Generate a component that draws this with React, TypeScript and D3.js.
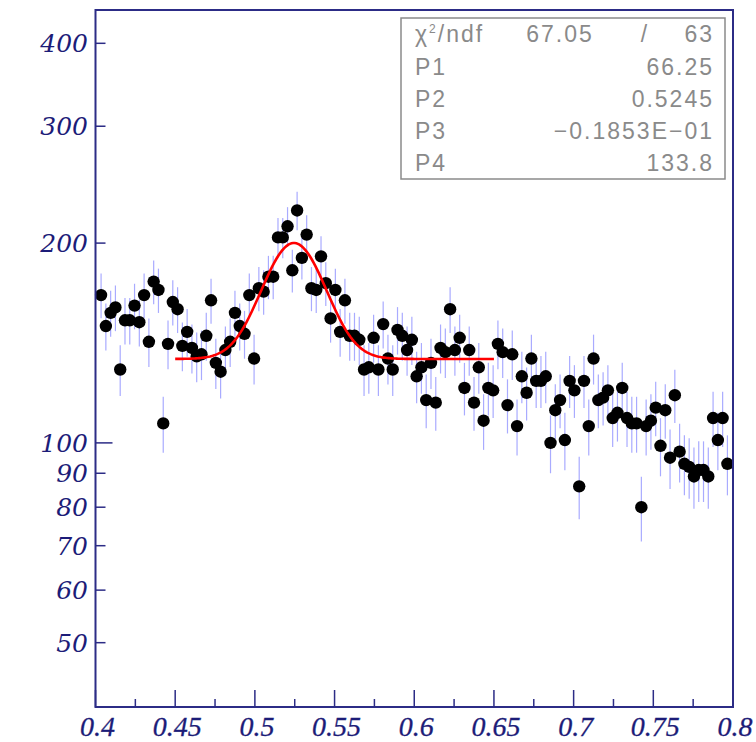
import React from 'react';
import * as d3 from 'd3';

// histogram: bin centres start at binStart, one bin every binWidth
const binStart = 0.4035;
const binWidth = 0.003;
const counts = [
  167, 150, 157, 160, 129, 153, 153, 161, 152, 167,
  142, 175, 170, 107, 141, 163, 159, 140, 147, 139,
  135, 136, 145, 164, 132, 128, 138, 142, 157, 150,
  146, 167, 134, 171, 169, 178, 178, 204, 204, 212,
  182, 224, 190, 206, 171, 170, 191, 174, 154, 170,
  147, 164, 145, 145, 143, 129, 130, 144, 129, 151,
  134, 129, 148, 145, 138, 143, 126, 130, 116, 132,
  115, 139, 137, 159, 138, 144, 121, 138, 115, 130,
  108, 121, 120, 141, 137, 114, 136, 106, 126, 119,
  134, 124, 124, 126, 100, 112, 116, 101, 124, 120,
  86, 124, 106, 134, 116, 117, 120, 109, 111, 121,
  109, 107, 107, 80, 106, 108, 113, 99, 112, 95,
  118, 97, 93, 92, 89, 91, 91, 89, 109, 101,
  109, 93,
];

// fit result shown in the stats box (gaussian + constant)
const fitRange = [0.45, 0.65];
const fitParams = { p1: 66.25, p2: 0.5245, p3: -0.01853, p4: 133.8 };
const statRows = [
  { label: 'P1', value: '66.25' },
  { label: 'P2', value: '0.5245' },
  { label: 'P3', value: '\u22120.1853E\u221201' },
  { label: 'P4', value: '133.8' },
];

const xTicksMajor = [0.4, 0.45, 0.5, 0.55, 0.6, 0.65, 0.7, 0.75, 0.8];
const xTickLabels = ['0.4', '0.45', '0.5', '0.55', '0.6', '0.65', '0.7', '0.75', '0.8'];
const xTicksMinor = [0.425, 0.475, 0.525, 0.575, 0.625, 0.675, 0.725, 0.775];
const yTicks = [50, 60, 70, 80, 90, 100, 200, 300, 400];

const W = 756;
const H = 742;
const left = 95.5, right = 733, top = 10, bottom = 707;
const axisColor = '#2c2c86';
const labelColor = '#1c1c78';

export default function App() {
  const x = d3.scaleLinear().domain([0.4, 0.8]).range([left, right]);
  const y = d3.scaleLog().domain([40, 449]).range([bottom, top]);

  const points = counts.map((c, i) => ({ x: binStart + i * binWidth, y: c }));

  const fn = (v: number) =>
    fitParams.p1 * Math.exp(-0.5 * Math.pow((v - fitParams.p2) / fitParams.p3, 2)) + fitParams.p4;
  const fitPts = d3.range(0, 201).map(i => {
    const v = fitRange[0] + (i / 200) * (fitRange[1] - fitRange[0]);
    return [v, fn(v)] as [number, number];
  });
  const line = d3.line<[number, number]>().x(d => x(d[0])).y(d => y(d[1]));

  const boxX = 401, boxY = 18, boxW = 324, boxH = 161;
  const rowH = boxH / 5;
  const textStyle = {
    fontFamily: 'Liberation Sans, Arial, sans-serif', fontSize: 23, fill: '#8a8a8a', letterSpacing: 2,
  };
  const xFont = {
    fontFamily: 'Liberation Serif, Times New Roman, serif', fontStyle: 'italic', fontSize: 28,
    fill: labelColor, stroke: labelColor, strokeWidth: 0.3,
  };
  const yFont = {
    fontFamily: 'DejaVu Serif, serif', fontStyle: 'italic', fontSize: 25, fill: labelColor,
  };

  return (
    <svg width={W} height={H} style={{ position: 'absolute', left: 0, top: 0, background: '#fff' }}>
      {/* error bars */}
      <g stroke="#a9abff" strokeWidth={1.2}>
        {points.map((p, i) => (
          <line key={i} x1={x(p.x)} x2={x(p.x)}
            y1={y(p.y + Math.sqrt(p.y))} y2={y(p.y - Math.sqrt(p.y))} />
        ))}
      </g>
      {/* points */}
      <g fill="#000">
        {points.map((p, i) => (
          <circle key={i} cx={x(p.x)} cy={y(p.y)} r={6.2} />
        ))}
      </g>
      {/* fit */}
      <path d={line(fitPts) || ''} fill="none" stroke="#ff0000" strokeWidth={2.6} />

      {/* frame */}
      <rect x={left} y={top} width={right - left} height={bottom - top}
        fill="none" stroke={axisColor} strokeWidth={2} />

      {/* x ticks */}
      <g stroke={axisColor} strokeWidth={1.5}>
        {xTicksMajor.map(t => (
          <line key={t} x1={x(t)} x2={x(t)} y1={bottom} y2={bottom - 17} />
        ))}
        {xTicksMinor.map(t => (
          <line key={t} x1={x(t)} x2={x(t)} y1={bottom} y2={bottom - 8} />
        ))}
      </g>
      <g style={xFont}>
        {xTicksMajor.map((t, i) => (
          <text key={t} x={x(t) + 2} y={736} textAnchor="middle">{xTickLabels[i]}</text>
        ))}
      </g>

      {/* y ticks */}
      <g stroke={axisColor} strokeWidth={1.5}>
        {yTicks.map(t => (
          <line key={t} x1={left} x2={left + (t === 100 ? 17 : 10)} y1={y(t)} y2={y(t)} />
        ))}
      </g>
      <g style={yFont}>
        {yTicks.map(t => (
          <text key={t} x={88} y={y(t)} dy="0.36em" textAnchor="end">{t}</text>
        ))}
      </g>

      {/* stats box */}
      <rect x={boxX} y={boxY} width={boxW} height={boxH} fill="#fff" stroke="#8a8a8a" strokeWidth={1.5} />
      <g style={textStyle}>
        <text x={415} y={boxY + rowH * 0.5} dy="0.36em">
          {'\u03c7'}<tspan fontSize={12} dy="-9">2</tspan><tspan dy="9">/ndf</tspan>
        </text>
        <text x={560} y={boxY + rowH * 0.5} dy="0.36em" textAnchor="middle">67.05</text>
        <text x={645} y={boxY + rowH * 0.5} dy="0.36em" textAnchor="middle">/</text>
        <text x={714} y={boxY + rowH * 0.5} dy="0.36em" textAnchor="end">63</text>
        {statRows.map((r, i) => (
          <g key={r.label}>
            <text x={415} y={boxY + rowH * (i + 1.5)} dy="0.36em">{r.label}</text>
            <text x={714} y={boxY + rowH * (i + 1.5)} dy="0.36em" textAnchor="end">{r.value}</text>
          </g>
        ))}
      </g>
    </svg>
  );
}
